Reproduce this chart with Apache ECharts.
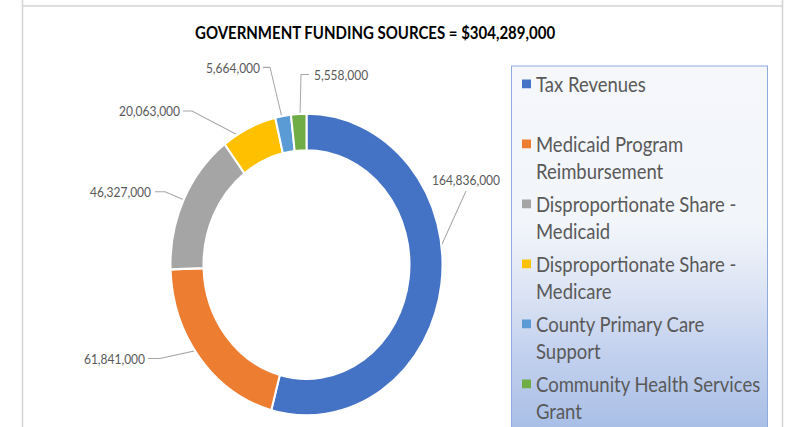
<!DOCTYPE html>
<html>
<head>
<meta charset="utf-8">
<title>Government Funding Sources</title>
<script src="https://cdn.jsdelivr.net/npm/echarts@6/dist/echarts.min.js"></script>
<style>
  html, body { margin: 0; padding: 0; background: #ffffff; overflow: hidden; }
  #stage { width: 792px; height: 427px; overflow: hidden; }
  /* the drawing is laid out on a 792x385 surface and stretched vertically */
  #chart { width: 792px; height: 385px; transform: scaleY(1.109091); transform-origin: 0 0; }
</style>
</head>
<body>
<div id="stage"><div id="chart"></div></div>
<script>
// ---- data ----
const titleText = 'GOVERNMENT FUNDING SOURCES = $304,289,000';
const categories = [
  'Tax Revenues',
  'Medicaid Program Reimbursement',
  'Disproportionate Share - Medicaid',
  'Disproportionate Share - Medicare',
  'County Primary Care Support',
  'Community Health Services Grant'
];
const amounts = [164836000, 61841000, 46327000, 20063000, 5664000, 5558000];
const legendLines = [
  'Tax Revenues\n ',
  'Medicaid Program\nReimbursement',
  'Disproportionate Share -\nMedicaid',
  'Disproportionate Share -\nMedicare',
  'County Primary Care\nSupport',
  'Community Health Services\nGrant'
];
const sliceColors = ['#4472C4', '#ED7D31', '#A5A5A5', '#FFC000', '#5B9BD5', '#70AD47'];

// ---- layout ----
const CX = 306.5, CY = 238.5, R_IN = 103, R_OUT = 136;
const LEGEND_LINE = 24.1;
// where each value label sits and how its leader line bends (chart space)
const labelSpots = [
  { x: 466, y: 162.3, align: 'center', depth: 0.5, leader: [[466, 172.2]] },
  { x: 145, y: 323.3, align: 'right',  depth: 0.5, leader: [[160, 323.3], [148, 323.3]] },
  { x: 151, y: 172.9, align: 'right',  depth: 0.9, leader: [[165, 172.9], [155, 172.9]] },
  { x: 180, y: 100.1, align: 'right',  depth: 0.5, leader: [[192, 100.1], [183, 100.1]] },
  { x: 260, y: 60.7,  align: 'right',  depth: 0.5, leader: [[270, 60.7], [263, 60.7]] },
  { x: 314, y: 67.2,  align: 'left',   depth: 0.5, leader: [[301, 67.2], [309, 67.2]] }
];

// legend swatch: a 9x8 square beside the first text line, padded to the two-line item height
const swatchPath = 'path://M0,' + (LEGEND_LINE / 2 - 4) + 'h9v8h-9z'
  + 'M0,0h0.01M0,' + (LEGEND_LINE * 2) + 'h0.01';

function fmtThousands(v) {
  return String(v).replace(/\B(?=(\d{3})+(?!\d))/g, ',');
}

// point inside the ring at the middle angle of slice i
function ringPoint(i, depth) {
  const total = amounts.reduce((a, b) => a + b, 0);
  let before = 0;
  for (let k = 0; k < i; k++) before += amounts[k];
  const theta = (before + amounts[i] / 2) / total * Math.PI * 2;
  const rr = R_IN + (R_OUT - R_IN) * depth;
  return [CX + rr * Math.sin(theta), CY - rr * Math.cos(theta)];
}

const chart = echarts.init(document.getElementById('chart'), null, { renderer: 'svg' });

const option = {
  animation: false,
  backgroundColor: '#ffffff',
  color: sliceColors,
  title: {
    text: titleText,
    left: 195,
    top: 21.4,
    padding: 0,
    textStyle: { fontFamily: 'Lato', fontWeight: 'bold', fontSize: 15, color: '#000000' }
  },
  graphic: [
    { type: 'line', shape: { x1: 22.5, y1: 0, x2: 22.5, y2: 385 }, style: { stroke: '#D4D4D4', lineWidth: 1.5 } },
    { type: 'line', shape: { x1: 22.5, y1: 5.4, x2: 783, y2: 5.4 }, style: { stroke: '#D4D4D4', lineWidth: 1.5 } },
    { type: 'line', shape: { x1: 782.5, y1: 0, x2: 782.5, y2: 385 }, style: { stroke: '#D4D4D4', lineWidth: 1.5 } },
    {
      type: 'rect',
      shape: { x: 511.5, y: 59.5, width: 256, height: 340 },
      style: {
        stroke: '#8FAADC',
        lineWidth: 1,
        fill: new echarts.graphic.LinearGradient(0, 0, 0, 1, [
          { offset: 0, color: '#F5F7FB' },
          { offset: 0.42, color: '#F2F5FA' },
          { offset: 0.6, color: '#DCE4F4' },
          { offset: 0.76, color: '#C3D1EE' },
          { offset: 0.96, color: '#A9BFE6' },
          { offset: 1, color: '#A6BDE5' }
        ])
      }
    }
  ],
  legend: {
    orient: 'vertical',
    left: 522,
    top: 63.6,
    height: 360,
    padding: 0,
    itemWidth: 9,
    itemHeight: LEGEND_LINE * 2,
    itemGap: 5.9,
    icon: swatchPath,
    selectedMode: false,
    itemStyle: { borderWidth: 0 },
    data: categories,
    formatter: function (name) { return legendLines[categories.indexOf(name)]; },
    textStyle: {
      fontFamily: 'Lato',
      fontSize: 18.5,
      color: '#595959',
      lineHeight: LEGEND_LINE
    }
  },
  series: [{
    type: 'pie',
    center: [CX, CY],
    radius: [R_IN, R_OUT],
    startAngle: 90,
    clockwise: true,
    avoidLabelOverlap: false,
    emphasis: { disabled: true },
    itemStyle: { borderColor: '#ffffff', borderWidth: 2 },
    label: {
      show: true,
      position: 'outside',
      formatter: function (p) { return fmtThousands(p.value); },
      fontFamily: 'Lato',
      fontSize: 12,
      color: '#595959'
    },
    labelLine: { show: true, lineStyle: { color: '#A6A6A6', width: 1 } },
    labelLayout: function (p) {
      const s = labelSpots[p.dataIndex];
      const start = ringPoint(p.dataIndex, s.depth);
      let pts;
      if (s.leader.length === 1) {
        const end = s.leader[0];
        pts = [start, [(start[0] + end[0]) / 2, (start[1] + end[1]) / 2], end];
      } else {
        pts = [start, s.leader[0], s.leader[1]];
      }
      return { x: s.x, y: s.y, align: s.align, verticalAlign: 'middle', labelLinePoints: pts };
    },
    data: categories.map(function (name, i) { return { name: name, value: amounts[i] }; })
  }]
};

chart.setOption(option);
</script>
</body>
</html>
